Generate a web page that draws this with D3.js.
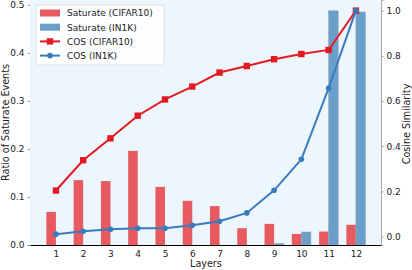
<!DOCTYPE html>
<html>
<head>
<meta charset="utf-8">
<script src="https://cdn.jsdelivr.net/npm/d3@7"></script>
<style>
  body { margin: 0; background: #fff; }
  text { font-family: "DejaVu Sans", sans-serif; }
</style>
</head>
<body>
<div id="graphique"></div>
<script>
// Donnees
const couches = [1, 2, 3, 4, 5, 6, 7, 8, 9, 10, 11, 12];
const saturateCifar = [0.069, 0.135, 0.133, 0.196, 0.121, 0.092, 0.081, 0.035, 0.044, 0.023, 0.028, 0.042];
const saturateIn1k = [0, 0, 0, 0, 0, 0, 0, 0, 0.003, 0.027, 0.4875, 0.485];
const cosCifar = [0.204, 0.338, 0.435, 0.535, 0.607, 0.664, 0.726, 0.755, 0.785, 0.808, 0.826, 1.0];
const cosIn1k = [0.011, 0.024, 0.033, 0.037, 0.037, 0.050, 0.068, 0.105, 0.205, 0.342, 0.657, 1.0];
const ticksGauche = [0.0, 0.1, 0.2, 0.3, 0.4, 0.5];
const ticksDroite = [0.0, 0.2, 0.4, 0.6, 0.8, 1.0];

const legende = [
  {nom: "Saturate (CIFAR10)", type: "bar", couleur: "#e65a60"},
  {nom: "Saturate (IN1K)", type: "bar", couleur: "#6a9fcb"},
  {nom: "COS (CIFAR10)", type: "line", couleur: "#e41a23", marque: "carre"},
  {nom: "COS (IN1K)", type: "line", couleur: "#3a7cbb", marque: "rond"}
];

const largeur = 412, hauteur = 270;
const margin = {top: 0, right: 31, bottom: 25, left: 30};
const w = largeur - margin.left - margin.right;
const h = hauteur - margin.top - margin.bottom;

const svg = d3.select("#graphique").append("svg")
    .attr("width", largeur)
    .attr("height", hauteur);

const g = svg.append("g")
    .attr("transform", "translate(" + margin.left + "," + margin.top + ")");

// Echelles
const x = d3.scaleLinear().domain([0.05, 12.92]).range([0, w]);
const yG = d3.scaleLinear().domain([0, 0.51]).range([h, 0]);
const yD = d3.scaleLinear().domain([-0.037, 1.047]).range([h, 0]);
const largeurBarre = x(0.35) - x(0);

// Fond
g.append("rect")
    .attr("width", w)
    .attr("height", h)
    .attr("fill", "#edf6fc");

// Barres CIFAR10
g.selectAll("rect.cifar")
    .data(couches)
    .enter()
    .append("rect")
    .attr("class", "cifar")
    .attr("x", (d, i) => x(d) - largeurBarre)
    .attr("y", (d, i) => yG(saturateCifar[i]))
    .attr("width", largeurBarre)
    .attr("height", (d, i) => yG(0) - yG(saturateCifar[i]))
    .attr("fill", "#e65a60");

// Barres IN1K
g.selectAll("rect.in1k")
    .data(couches)
    .enter()
    .append("rect")
    .attr("class", "in1k")
    .attr("x", d => x(d))
    .attr("y", (d, i) => yG(saturateIn1k[i]))
    .attr("width", largeurBarre)
    .attr("height", (d, i) => yG(0) - yG(saturateIn1k[i]))
    .attr("fill", "#6a9fcb")
    .attr("stroke", (d, i) => saturateIn1k[i] > 0 ? "#9aa4ad" : "none")
    .attr("stroke-width", 0.6);

// Lignes de similarite
const series = [
  {valeurs: cosCifar, couleur: "#e41a23", marque: "carre"},
  {valeurs: cosIn1k, couleur: "#3a7cbb", marque: "rond"}
];

series.forEach(s => {
  const ligne = d3.line()
      .x((d, i) => x(couches[i]))
      .y(d => yD(d));

  g.append("path")
      .datum(s.valeurs)
      .attr("fill", "none")
      .attr("stroke", s.couleur)
      .attr("stroke-width", 2)
      .attr("d", ligne);

  if (s.marque === "carre") {
    g.selectAll("rect.m-cifar")
        .data(s.valeurs)
        .enter()
        .append("rect")
        .attr("x", (d, i) => x(couches[i]) - 3.2)
        .attr("y", d => yD(d) - 3.2)
        .attr("width", 6.4)
        .attr("height", 6.4)
        .attr("fill", s.couleur);
  } else {
    g.selectAll("circle.m-in1k")
        .data(s.valeurs)
        .enter()
        .append("circle")
        .attr("cx", (d, i) => x(couches[i]))
        .attr("cy", d => yD(d))
        .attr("r", 2.8)
        .attr("fill", s.couleur);
  }
});

// Axe X
const axeX = g.append("g")
    .attr("transform", "translate(0," + h + ")")
    .call(d3.axisBottom(x).tickValues(couches).tickFormat(d3.format("d")).tickSize(0).tickPadding(6));
axeX.select(".domain").attr("stroke", "#000").attr("stroke-width", 1);
axeX.selectAll("text").attr("font-size", 9).attr("fill", "#222");

// Axe Y gauche
const axeG = g.append("g")
    .call(d3.axisLeft(yG).tickValues(ticksGauche).tickFormat(d3.format(".1f")).tickSize(2.5).tickPadding(3));
axeG.select(".domain").remove();
axeG.selectAll("line").attr("stroke", "#999");
axeG.selectAll("text").attr("font-size", 9).attr("fill", "#222");

// Axe Y droit
const axeD = g.append("g")
    .attr("transform", "translate(" + w + ",0)")
    .call(d3.axisRight(yD).tickValues(ticksDroite).tickFormat(d3.format(".1f")).tickSize(2.5).tickPadding(3));
axeD.select(".domain").attr("stroke", "#aaa").attr("stroke-width", 1);
axeD.selectAll("line").attr("stroke", "#999");
axeD.selectAll("text").attr("font-size", 9).attr("fill", "#222");

// Titres des axes
svg.append("text")
    .attr("transform", "translate(9,122.5) rotate(-90)")
    .attr("text-anchor", "middle")
    .attr("font-size", 9.6)
    .attr("fill", "#222")
    .text("Ratio of Saturate Events");

svg.append("text")
    .attr("transform", "translate(410,124) rotate(-90)")
    .attr("text-anchor", "middle")
    .attr("font-size", 9.6)
    .attr("fill", "#222")
    .text("Cosine Similarity");

svg.append("text")
    .attr("x", margin.left + x(6.5))
    .attr("y", 267)
    .attr("text-anchor", "middle")
    .attr("font-size", 9.6)
    .attr("fill", "#222")
    .text("Layers");

// Legende
const leg = svg.append("g").attr("transform", "translate(36,5)");
leg.append("rect")
    .attr("width", 128)
    .attr("height", 60)
    .attr("rx", 2)
    .attr("fill", "#fff")
    .attr("fill-opacity", 0.85)
    .attr("stroke", "#ddd")
    .attr("stroke-width", 0.8);

legende.forEach((e, i) => {
  const yy = 8 + i * 14.2;
  const item = leg.append("g").attr("transform", "translate(0," + yy + ")");
  if (e.type === "bar") {
    item.append("rect")
        .attr("x", 4).attr("y", -3.5)
        .attr("width", 20).attr("height", 7)
        .attr("fill", e.couleur);
  } else {
    item.append("line")
        .attr("x1", 4).attr("x2", 24)
        .attr("stroke", e.couleur).attr("stroke-width", 2);
    if (e.marque === "carre") {
      item.append("rect").attr("x", 10.8).attr("y", -3.2)
          .attr("width", 6.4).attr("height", 6.4).attr("fill", e.couleur);
    } else {
      item.append("circle").attr("cx", 14).attr("r", 2.8).attr("fill", e.couleur);
    }
  }
  item.append("text")
      .attr("x", 31)
      .attr("y", 3.3)
      .attr("font-size", 9)
      .attr("fill", "#222")
      .text(e.nom);
});
</script>
</body>
</html>
